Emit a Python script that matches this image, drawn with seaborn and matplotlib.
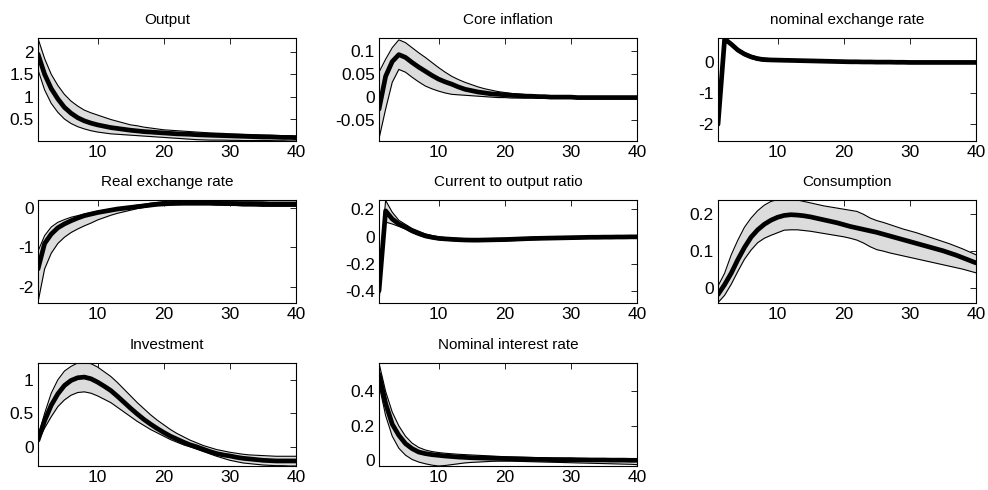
import matplotlib
matplotlib.use("Agg")
import matplotlib.pyplot as plt
import numpy as np
import pandas as pd
import seaborn as sns
from matplotlib.ticker import FuncFormatter, FixedLocator

periods = list(range(1, 41))

titles = ["Output", "Core inflation", "nominal exchange rate",
          "Real exchange rate", "Current to output ratio", "Consumption",
          "Investment", "Nominal interest rate"]

output_mean = [1.95, 1.50, 1.18, 0.95, 0.76, 0.63, 0.53, 0.46, 0.41, 0.37, 0.34, 0.31, 0.29, 0.27, 0.25, 0.235, 0.22, 0.21, 0.20, 0.19,
               0.18, 0.17, 0.165, 0.16, 0.15, 0.145, 0.14, 0.135, 0.13, 0.125, 0.12, 0.115, 0.11, 0.105, 0.10, 0.10, 0.095, 0.09, 0.09, 0.085]
output_upper = [2.30, 1.85, 1.50, 1.25, 1.05, 0.90, 0.79, 0.70, 0.64, 0.59, 0.54, 0.49, 0.45, 0.41, 0.37, 0.35, 0.32, 0.30, 0.28, 0.26,
                0.25, 0.24, 0.23, 0.22, 0.21, 0.20, 0.19, 0.185, 0.18, 0.17, 0.165, 0.16, 0.155, 0.15, 0.145, 0.14, 0.135, 0.13, 0.125, 0.12]
output_lower = [1.60, 1.15, 0.85, 0.65, 0.50, 0.40, 0.33, 0.28, 0.24, 0.21, 0.19, 0.17, 0.16, 0.15, 0.14, 0.13, 0.12, 0.11, 0.10, 0.09,
                0.08, 0.07, 0.06, 0.05, 0.04, 0.035, 0.03, 0.03, 0.03, 0.025, 0.025, 0.02, 0.02, 0.02, 0.02, 0.02, 0.015, 0.015, 0.01, 0.01]

core_mean = [-0.026, 0.045, 0.077, 0.092, 0.086, 0.075, 0.065, 0.056, 0.047, 0.039, 0.033, 0.028, 0.022, 0.017, 0.014, 0.011, 0.009, 0.007, 0.006, 0.005,
             0.004, 0.003, 0.002, 0.002, 0.001, 0.001, 0.0, 0.0, 0.0, 0.0, -0.001, -0.001, -0.001, -0.001, -0.001, -0.001, -0.001, -0.001, -0.001, -0.001]
core_upper = [0.054, 0.082, 0.107, 0.124, 0.118, 0.107, 0.096, 0.086, 0.075, 0.064, 0.054, 0.045, 0.038, 0.032, 0.027, 0.022, 0.018, 0.015, 0.012, 0.010,
              0.008, 0.007, 0.006, 0.005, 0.004, 0.003, 0.003, 0.002, 0.002, 0.002, 0.001, 0.001, 0.001, 0.001, 0.001, 0.001, 0.001, 0.001, 0.001, 0.001]
core_lower = [-0.090, -0.026, 0.032, 0.060, 0.054, 0.043, 0.033, 0.024, 0.018, 0.013, 0.009, 0.006, 0.005, 0.004, 0.003, 0.002, 0.001, 0.0, -0.001, -0.001,
              -0.002, -0.002, -0.002, -0.002, -0.002, -0.002, -0.002, -0.002, -0.002, -0.002, -0.002, -0.002, -0.002, -0.002, -0.002, -0.002, -0.002, -0.002, -0.002, -0.002]

nom_mean = [-2.00, 0.76, 0.59, 0.40, 0.27, 0.18, 0.12, 0.09, 0.08, 0.075, 0.07, 0.065, 0.06, 0.055, 0.05, 0.045, 0.04, 0.035, 0.03, 0.025,
            0.02, 0.02, 0.015, 0.015, 0.01, 0.01, 0.01, 0.005, 0.005, 0.0, 0.0, 0.0, 0.0, 0.0, 0.0, 0.0, 0.0, 0.0, 0.0, 0.0]
nom_upper = [-1.70, 0.79, 0.64, 0.45, 0.32, 0.23, 0.17, 0.14, 0.12, 0.11, 0.10, 0.095, 0.09, 0.085, 0.08, 0.075, 0.07, 0.065, 0.06, 0.055,
             0.05, 0.05, 0.045, 0.045, 0.04, 0.04, 0.04, 0.035, 0.035, 0.03, 0.03, 0.03, 0.03, 0.03, 0.03, 0.03, 0.03, 0.03, 0.03, 0.03]
nom_lower = [-2.05, 0.72, 0.54, 0.35, 0.22, 0.13, 0.07, 0.04, 0.04, 0.04, 0.04, 0.035, 0.03, 0.025, 0.02, 0.015, 0.01, 0.005, 0.0, -0.005,
             -0.01, -0.01, -0.015, -0.015, -0.02, -0.02, -0.02, -0.025, -0.025, -0.03, -0.03, -0.03, -0.03, -0.03, -0.03, -0.03, -0.03, -0.03, -0.03, -0.03]

rer_mean = [-1.55, -0.90, -0.66, -0.50, -0.40, -0.32, -0.25, -0.19, -0.15, -0.11, -0.08, -0.05, -0.02, 0.0, 0.02, 0.04, 0.06, 0.08, 0.10, 0.11,
            0.12, 0.125, 0.13, 0.13, 0.13, 0.13, 0.13, 0.125, 0.12, 0.12, 0.115, 0.11, 0.11, 0.105, 0.10, 0.10, 0.10, 0.10, 0.10, 0.10]
rer_upper = [-1.10, -0.70, -0.48, -0.36, -0.29, -0.23, -0.19, -0.15, -0.11, -0.08, -0.05, -0.02, 0.0, 0.03, 0.05, 0.08, 0.10, 0.13, 0.15, 0.17,
             0.18, 0.18, 0.18, 0.18, 0.18, 0.18, 0.18, 0.18, 0.18, 0.18, 0.18, 0.18, 0.18, 0.18, 0.18, 0.19, 0.19, 0.19, 0.19, 0.19]
rer_lower = [-2.40, -1.55, -1.15, -0.90, -0.74, -0.62, -0.53, -0.45, -0.38, -0.30, -0.24, -0.18, -0.13, -0.09, -0.05, -0.01, 0.02, 0.05, 0.07, 0.08,
             0.085, 0.09, 0.09, 0.09, 0.09, 0.09, 0.09, 0.08, 0.08, 0.07, 0.07, 0.06, 0.06, 0.06, 0.05, 0.05, 0.05, 0.05, 0.05, 0.05]

cur_mean = [-0.40, 0.19, 0.13, 0.093, 0.07, 0.042, 0.022, 0.005, -0.005, -0.013, -0.017, -0.02, -0.023, -0.025, -0.026, -0.026, -0.025, -0.024, -0.023, -0.022,
            -0.02, -0.018, -0.016, -0.014, -0.013, -0.012, -0.011, -0.01, -0.009, -0.008, -0.007, -0.006, -0.005, -0.005, -0.004, -0.004, -0.003, -0.003, -0.002, -0.002]
cur_upper = [-0.30, 0.267, 0.18, 0.12, 0.09, 0.06, 0.04, 0.02, 0.008, -0.002, -0.007, -0.01, -0.013, -0.015, -0.016, -0.016, -0.015, -0.014, -0.013, -0.012,
             -0.01, -0.009, -0.008, -0.006, -0.005, -0.004, -0.003, -0.002, -0.001, 0.0, 0.0, 0.001, 0.002, 0.002, 0.003, 0.003, 0.004, 0.004, 0.005, 0.005]
cur_lower = [-0.48, 0.107, 0.093, 0.075, 0.055, 0.032, 0.012, -0.005, -0.015, -0.023, -0.027, -0.03, -0.033, -0.035, -0.036, -0.036, -0.035, -0.034, -0.033, -0.032,
             -0.03, -0.028, -0.026, -0.024, -0.022, -0.02, -0.019, -0.018, -0.017, -0.016, -0.015, -0.014, -0.013, -0.012, -0.011, -0.011, -0.01, -0.01, -0.009, -0.009]

cons_mean = [-0.018, 0.009, 0.040, 0.077, 0.110, 0.138, 0.158, 0.173, 0.184, 0.192, 0.197, 0.199, 0.198, 0.196, 0.193, 0.189, 0.185, 0.181, 0.177, 0.172,
             0.167, 0.163, 0.159, 0.155, 0.151, 0.146, 0.141, 0.136, 0.131, 0.126, 0.121, 0.116, 0.111, 0.106, 0.101, 0.095, 0.089, 0.082, 0.075, 0.068]
cons_upper = [0.005, 0.040, 0.090, 0.130, 0.165, 0.190, 0.210, 0.225, 0.235, 0.240, 0.241, 0.241, 0.239, 0.235, 0.231, 0.227, 0.223, 0.220, 0.217, 0.214,
              0.211, 0.208, 0.200, 0.190, 0.183, 0.178, 0.172, 0.166, 0.160, 0.155, 0.150, 0.144, 0.138, 0.132, 0.126, 0.120, 0.113, 0.106, 0.098, 0.090]
cons_lower = [-0.040, -0.020, 0.010, 0.045, 0.078, 0.103, 0.123, 0.135, 0.143, 0.150, 0.157, 0.158, 0.158, 0.156, 0.154, 0.151, 0.148, 0.145, 0.142, 0.139,
              0.135, 0.130, 0.122, 0.112, 0.104, 0.100, 0.095, 0.091, 0.087, 0.083, 0.079, 0.075, 0.071, 0.067, 0.063, 0.059, 0.055, 0.051, 0.046, 0.041]

inv_mean = [0.10, 0.39, 0.62, 0.79, 0.915, 0.99, 1.03, 1.04, 1.015, 0.965, 0.905, 0.84, 0.755, 0.665, 0.575, 0.49, 0.41, 0.34, 0.275, 0.215,
            0.16, 0.115, 0.07, 0.03, 0.0, -0.035, -0.07, -0.10, -0.12, -0.135, -0.155, -0.17, -0.18, -0.19, -0.20, -0.205, -0.21, -0.21, -0.21, -0.21]
inv_upper = [0.15, 0.50, 0.80, 1.00, 1.13, 1.20, 1.25, 1.25, 1.24, 1.19, 1.12, 1.05, 0.96, 0.86, 0.76, 0.66, 0.57, 0.48, 0.40, 0.33,
             0.26, 0.20, 0.15, 0.10, 0.06, 0.02, -0.01, -0.04, -0.06, -0.08, -0.095, -0.11, -0.12, -0.125, -0.13, -0.135, -0.14, -0.14, -0.14, -0.14]
inv_lower = [0.08, 0.28, 0.45, 0.60, 0.70, 0.77, 0.81, 0.82, 0.80, 0.76, 0.71, 0.66, 0.59, 0.52, 0.45, 0.38, 0.32, 0.26, 0.21, 0.16,
             0.11, 0.07, 0.03, 0.0, -0.035, -0.07, -0.105, -0.14, -0.17, -0.20, -0.22, -0.24, -0.25, -0.26, -0.27, -0.275, -0.28, -0.28, -0.285, -0.285]

rate_mean = [0.50, 0.33, 0.21, 0.145, 0.097, 0.068, 0.048, 0.039, 0.033, 0.029, 0.025, 0.022, 0.019, 0.017, 0.015, 0.014, 0.013, 0.012, 0.011, 0.010,
             0.009, 0.008, 0.007, 0.006, 0.005, 0.005, 0.004, 0.004, 0.004, 0.004, 0.003, 0.003, 0.002, 0.002, 0.002, 0.001, 0.001, 0.001, 0.0, 0.0]
rate_upper = [0.565, 0.40, 0.28, 0.20, 0.14, 0.10, 0.075, 0.06, 0.051, 0.045, 0.041, 0.038, 0.035, 0.033, 0.031, 0.029, 0.027, 0.025, 0.023, 0.021,
              0.020, 0.019, 0.018, 0.017, 0.016, 0.015, 0.014, 0.013, 0.012, 0.012, 0.011, 0.010, 0.009, 0.009, 0.008, 0.007, 0.007, 0.006, 0.006, 0.005]
rate_lower = [0.44, 0.26, 0.14, 0.07, 0.03, 0.005, -0.01, -0.02, -0.028, -0.033, -0.03, -0.025, -0.02, -0.015, -0.012, -0.01, -0.008, -0.006, -0.005, -0.005,
              -0.005, -0.006, -0.007, -0.008, -0.009, -0.01, -0.011, -0.012, -0.013, -0.014, -0.015, -0.016, -0.017, -0.018, -0.019, -0.02, -0.021, -0.022, -0.023, -0.025]

means = [output_mean, core_mean, nom_mean, rer_mean, cur_mean, cons_mean, inv_mean, rate_mean]
uppers = [output_upper, core_upper, nom_upper, rer_upper, cur_upper, cons_upper, inv_upper, rate_upper]
lowers = [output_lower, core_lower, nom_lower, rer_lower, cur_lower, cons_lower, inv_lower, rate_lower]

y_ticks = [[0.5, 1, 1.5, 2], [-0.05, 0, 0.05, 0.1], [-2, -1, 0], [-2, -1, 0],
           [-0.4, -0.2, 0, 0.2], [0, 0.1, 0.2], [0, 0.5, 1], [0, 0.2, 0.4]]
y_limits = [(0.01, 2.31), (-0.095, 0.128), (-2.54, 0.79), (-2.42, 0.21),
            (-0.49, 0.27), (-0.041, 0.239), (-0.285, 1.25), (-0.033, 0.565)]
x_ticks = [10, 20, 30, 40]

sns.set_style("white")
plt.rcParams["font.family"] = ["Liberation Sans", "DejaVu Sans"]
plt.rcParams["text.color"] = "black"

W, H = 988, 490
fig = plt.figure(figsize=(W / 100, H / 100), dpi=100, facecolor="white")

col_left = [38, 379, 718]
row_top = [38, 200, 363]
ax_w, ax_h = 258, 103

fmt = FuncFormatter(lambda v, p: f"{round(v, 6) + 0.0:g}")

for i in range(8):
    r, c = divmod(i, 3)
    ax = fig.add_axes([col_left[c] / W, 1 - (row_top[r] + ax_h) / H, ax_w / W, ax_h / H])
    df = pd.DataFrame({"t": periods, "mean": means[i], "upper": uppers[i], "lower": lowers[i]})
    ax.fill_between(df["t"], df["lower"], df["upper"], color="#dcdcdc", lw=0, zorder=1)
    sns.lineplot(data=df, x="t", y="upper", color="black", lw=0.8, ax=ax, zorder=2)
    sns.lineplot(data=df, x="t", y="lower", color="black", lw=0.8, ax=ax, zorder=2)
    sns.lineplot(data=df, x="t", y="mean", color="black", lw=3.4, ax=ax, zorder=3)
    ax.set_xlim(1, 40)
    ax.set_ylim(*y_limits[i])
    ax.xaxis.set_major_locator(FixedLocator(x_ticks))
    ax.yaxis.set_major_locator(FixedLocator(y_ticks[i]))
    ax.yaxis.set_major_formatter(fmt)
    ax.xaxis.set_major_formatter(fmt)
    ax.set_xlabel("")
    ax.set_ylabel("")
    ax.tick_params(direction="in", top=True, right=True, length=4, width=0.6,
                   labelsize=12.5, pad=3, colors="black")
    for s in ax.spines.values():
        s.set_color("black")
        s.set_linewidth(0.8)
    ax.set_title(titles[i], fontsize=11, pad=10, color="black")

fig.savefig("out.png", dpi=100, facecolor="white")
